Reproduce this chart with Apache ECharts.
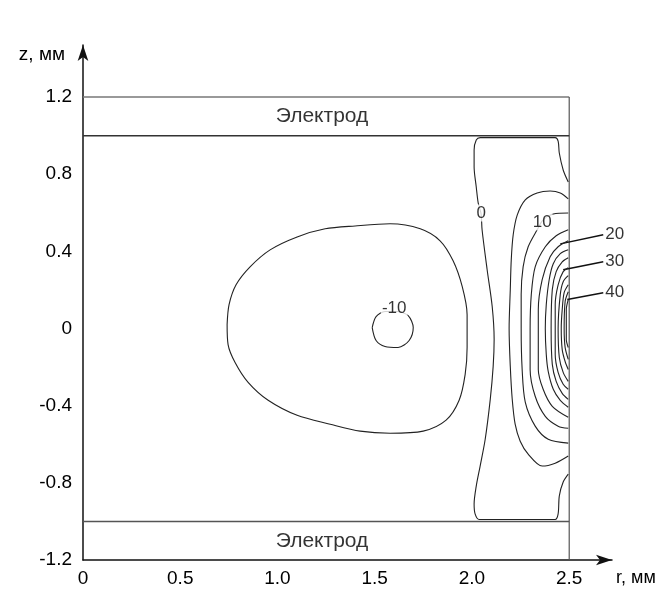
<!DOCTYPE html>
<html>
<head>
<meta charset="utf-8">
<script src="https://cdn.jsdelivr.net/npm/echarts@6/dist/echarts.min.js"></script>
<style>
  html, body { margin: 0; padding: 0; background: #fff; }
  #chart { width: 656px; height: 589px; }
</style>
</head>
<body>
<div id="chart"></div>
<script>
// axis ticks (mm)
const rTicks = [0, 0.5, 1.0, 1.5, 2.0, 2.5]
const zTicks = [-1.2, -0.8, -0.4, 0, 0.4, 0.8, 1.2]

// cell frame and electrodes
const frameTop = [[0, 1.2], [2.5, 1.2]]
const frameRight = [[2.5, -1.2], [2.5, 1.2]]
const electrodeTop = [[0, 1.0], [2.5, 1.0]]
const electrodeBottom = [[0, -1.0], [2.5, -1.0]]

// contour lines, [r, z] in mm
const contourM10 = [[1.487, 0.005], [1.507, 0.062], [1.553, 0.088], [1.615, 0.088], [1.672, 0.067],
  [1.698, 0.005], [1.677, -0.062], [1.620, -0.098], [1.553, -0.093], [1.507, -0.062], [1.487, 0.005]]
const contourM5 = [[0.741, 0.021], [0.751, 0.124], [0.787, 0.227], [0.859, 0.320], [0.962, 0.408],
  [1.101, 0.475], [1.245, 0.517], [1.399, 0.532], [1.579, 0.543], [1.734, 0.517], [1.836, 0.455],
  [1.903, 0.351], [1.950, 0.217], [1.975, 0.072], [1.975, -0.098], [1.965, -0.238], [1.934, -0.372],
  [1.867, -0.475], [1.749, -0.532], [1.579, -0.543], [1.425, -0.532], [1.271, -0.496], [1.101, -0.450],
  [0.952, -0.372], [0.849, -0.279], [0.782, -0.176], [0.746, -0.083], [0.741, 0.021]]
const contour0 = [[2.495, 0.760], [2.469, 0.822], [2.449, 0.910], [2.443, 0.972], [2.428, 0.99],
  [2.042, 0.99], [2.022, 0.977], [2.011, 0.925], [2.011, 0.837], [2.022, 0.734], [2.032, 0.651],
  [2.047, 0.594], [2.052, 0.512], [2.078, 0.305], [2.104, 0.114], [2.114, -0.057], [2.109, -0.196],
  [2.094, -0.367], [2.068, -0.574], [2.042, -0.713], [2.022, -0.817], [2.011, -0.910], [2.016, -0.961],
  [2.037, -0.99], [2.428, -0.99], [2.443, -0.961], [2.449, -0.868], [2.469, -0.796], [2.495, -0.755]]
const contour5 = [[2.495, 0.672], [2.454, 0.703], [2.402, 0.713], [2.335, 0.703], [2.274, 0.667],
  [2.233, 0.589], [2.212, 0.486], [2.202, 0.357], [2.197, 0.202], [2.191, 0], [2.197, -0.196],
  [2.207, -0.367], [2.222, -0.496], [2.248, -0.584], [2.289, -0.651], [2.361, -0.713], [2.428, -0.698],
  [2.495, -0.661]]
const contour10 = [[2.495, 0.599], [2.418, 0.594], [2.366, 0.563], [2.335, 0.512], [2.289, 0.424],
  [2.263, 0.320], [2.253, 0.176], [2.253, 0], [2.258, -0.212], [2.274, -0.382], [2.325, -0.506],
  [2.392, -0.574], [2.495, -0.594]]
const contour15 = [[2.495, 0.512], [2.433, 0.481], [2.377, 0.424], [2.325, 0.320], [2.305, 0.176],
  [2.299, 0], [2.299, -0.212], [2.325, -0.351], [2.377, -0.455], [2.443, -0.506], [2.495, -0.517]]
const contour20 = [[2.495, 0.455], [2.443, 0.424], [2.402, 0.372], [2.361, 0.253], [2.341, 0.098],
  [2.341, -0.083], [2.341, -0.212], [2.366, -0.315], [2.413, -0.403], [2.495, -0.460]]
const contour25 = [[2.495, 0.408], [2.454, 0.388], [2.418, 0.336], [2.397, 0.253], [2.382, 0.124],
  [2.377, 0], [2.382, -0.134], [2.392, -0.222], [2.418, -0.315], [2.454, -0.372], [2.495, -0.408]]
const contour30 = [[2.495, 0.367], [2.464, 0.346], [2.433, 0.295], [2.413, 0.202], [2.407, 0],
  [2.413, -0.186], [2.433, -0.274], [2.464, -0.336], [2.495, -0.367]]
const contour35 = [[2.495, 0.315], [2.469, 0.295], [2.443, 0.227], [2.428, 0.124], [2.428, 0],
  [2.428, -0.134], [2.443, -0.227], [2.469, -0.289], [2.495, -0.315]]
const contour40 = [[2.495, 0.274], [2.469, 0.243], [2.454, 0.176], [2.443, 0], [2.449, -0.150],
  [2.469, -0.227], [2.495, -0.274]]
const contour45 = [[2.495, 0.227], [2.474, 0.186], [2.464, 0.098], [2.459, 0], [2.464, -0.109],
  [2.479, -0.171], [2.495, -0.212]]
const contour50 = [[2.495, 0.191], [2.479, 0.140], [2.474, 0], [2.479, -0.098], [2.495, -0.160]]
const contour55 = [[2.495, 0.150], [2.485, 0.098], [2.485, 0], [2.485, -0.057], [2.495, -0.098]]

// in-line contour labels [r, z, text]
const contourLabels = [[2.047, 0.599, '0'], [2.361, 0.553, '10'], [1.600, 0.103, '-10']]
// leader lines for the labels outside the cell
const leader20 = [[2.675, 0.486], [2.454, 0.439]]
const leader30 = [[2.675, 0.346], [2.469, 0.305]]
const leader40 = [[2.675, 0.186], [2.490, 0.150]]
const leaderLabels = [[2.675, 0.486, '20'], [2.675, 0.346, '30'], [2.675, 0.186, '40']]
// electrode captions
const electrodeLabels = [[1.229, 1.1, 'Электрод'], [1.229, -1.1, 'Электрод']]

const font = "'Liberation Sans', Arial, sans-serif"
const chart = echarts.init(document.getElementById('chart'), null, { renderer: 'canvas' })

const plainLine = (data, color, width) => ({
  type: 'line', data, symbol: 'none', silent: true, clip: false,
  lineStyle: { color, width }, z: 2
})
const contourLine = data => ({
  type: 'line', data, symbol: 'none', silent: true, smooth: 0.3, clip: false,
  lineStyle: { color: '#222', width: 1.1 }, z: 3
})

const contours = [contourM10, contourM5, contour0, contour5, contour10, contour15, contour20,
  contour25, contour30, contour35, contour40, contour45, contour50, contour55]

const option = {
  animation: false,
  backgroundColor: '#fff',
  textStyle: { fontFamily: font },
  grid: { left: 83, right: 44, top: 45, bottom: 29, containLabel: false, outerBoundsMode: 'none' },
  xAxis: {
    type: 'value', min: 0, max: 2.72,
    name: 'r, мм', nameLocation: 'end', nameGap: 4,
    nameTextStyle: { color: '#000', fontSize: 18, fontFamily: font, align: 'left', verticalAlign: 'top', padding: [9, 0, 0, 0] },
    axisLine: { onZero: false, lineStyle: { color: '#111', width: 1.5 }, symbol: ['none', 'arrow'], symbolSize: [8, 16] },
    axisTick: { show: false },
    splitLine: { show: false },
    axisLabel: {
      customValues: rTicks, color: '#000', fontSize: 19, fontFamily: font, margin: 9,
      formatter: v => v === 0 ? '0' : v.toFixed(1)
    }
  },
  yAxis: {
    type: 'value', min: -1.2, max: 1.47,
    name: 'z, мм', nameLocation: 'end', nameGap: -10,
    nameTextStyle: { color: '#000', fontSize: 19, fontFamily: font, align: 'right', verticalAlign: 'middle', padding: [0, 18, 0, 0] },
    axisLine: { onZero: false, lineStyle: { color: '#111', width: 1.5 }, symbol: ['none', 'arrow'], symbolSize: [8, 16] },
    axisTick: { show: false },
    splitLine: { show: false },
    axisLabel: {
      customValues: zTicks, color: '#000', fontSize: 19, fontFamily: font, margin: 11,
      formatter: v => v === 0 ? '0' : v.toFixed(1)
    }
  },
  series: [
    plainLine(frameTop, '#777', 1.5),
    plainLine(frameRight, '#555', 1.2),
    plainLine(electrodeTop, '#333', 1.5),
    plainLine(electrodeBottom, '#555', 1.5),
    ...contours.map(contourLine),
    plainLine(leader20, '#111', 1.5),
    plainLine(leader30, '#111', 1.5),
    plainLine(leader40, '#111', 1.5),
    {
      type: 'scatter', data: contourLabels, symbolSize: 0.1, silent: true, clip: false, z: 5,
      itemStyle: { color: 'transparent' },
      label: {
        show: true, position: 'inside', formatter: p => p.value[2],
        color: '#000', fontSize: 17, fontFamily: font, backgroundColor: '#fff', padding: [0, 1]
      }
    },
    {
      type: 'scatter', data: leaderLabels, symbolSize: 0.1, silent: true, clip: false, z: 5,
      itemStyle: { color: 'transparent' },
      label: {
        show: true, position: 'right', distance: 2, formatter: p => p.value[2],
        color: '#000', fontSize: 17, fontFamily: font
      }
    },
    {
      type: 'scatter', data: electrodeLabels, symbolSize: 0.1, silent: true, clip: false, z: 5,
      itemStyle: { color: 'transparent' },
      label: {
        show: true, position: 'inside', formatter: p => p.value[2],
        color: '#000', fontSize: 21, fontFamily: font
      }
    }
  ]
}

chart.setOption(option)
</script>
</body>
</html>
